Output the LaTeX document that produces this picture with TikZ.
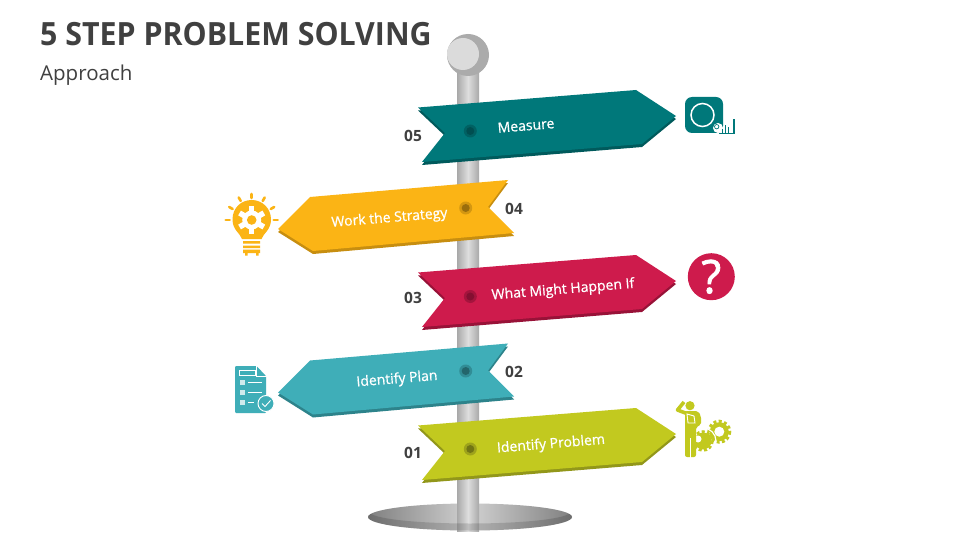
\documentclass[tikz,border=0pt]{standalone}
\usepackage{fontspec}
\setmainfont{Open Sans}
\newfontfamily\signfont{Open Sans}[FakeBold=0.7]
\newfontfamily\markfont{Open Sans}[FakeBold=1.6]
\newfontfamily\titlefont{Open Sans}[FakeStretch=0.948]
\usepackage{tikz}
\definecolor{titlegray}{HTML}{404040}
\definecolor{measureteal}{HTML}{00787A}
\definecolor{measuredark}{HTML}{005A5C}
\definecolor{strategyyellow}{HTML}{FBB415}
\definecolor{strategydark}{HTML}{C78E10}
\definecolor{happencrimson}{HTML}{CE1B4C}
\definecolor{happendark}{HTML}{981238}
\definecolor{planaqua}{HTML}{3FAEB8}
\definecolor{plandark}{HTML}{2D838B}
\definecolor{problemlime}{HTML}{C2C91F}
\definecolor{problemdark}{HTML}{92971A}
\tikzset{
	signtext/.style={text=white, font=\signfont\fontsize{14}{16}\selectfont, inner sep=0pt},
	numtext/.style={text=titlegray, font=\bfseries\fontsize{15.5}{17}\selectfont, inner sep=0pt},
	holeout/.style={circle, fill=#1, fill opacity=.75, minimum size=13pt, inner sep=0pt},
	holein/.style={circle, fill=#1, fill opacity=.9, minimum size=8pt, inner sep=0pt},
	ray/.style={line width=2.6pt, line cap=round},
}
\begin{document}
\begin{tikzpicture}[x=1pt, y=-1pt]
	\useasboundingbox (0,0) rectangle (960,540);
	\fill[white] (0,0) rectangle (960,540);
	\node[anchor=west, inner sep=0pt, text=titlegray, font=\titlefont\bfseries\fontsize{32}{34}\selectfont] (title) at (40,34.5) {5 STEP PROBLEM SOLVING};
	\node[anchor=west, inner sep=0pt, text=titlegray, font=\fontsize{20.5}{22}\selectfont] (subtitle) at (40,75) {Approach};

	\shade[left color=black!50, right color=black!50, middle color=black!18] (470,517) ellipse (102 and 13.5);
	\shade[left color=black!34, right color=black!34, middle color=black!13] (457,50) rectangle (479,531);
	\begin{scope}
		\clip (470,517) ellipse (102 and 13.5);
		\fill[black, opacity=.14, even odd rule] (360,495) rectangle (580,535) (470,512) ellipse (100 and 11.5);
	\end{scope}
	\fill[black!33] (468,55) circle (21);
	\fill[black!14] (463,54) circle (16);

	\fill[measuredark] (418,110.5) -- (636,93) -- (676,119) -- (642,147) -- (422,165) -- (445,136) -- cycle;
	\fill[measureteal] (418,107.5) -- (636,90) -- (676,116) -- (642,144) -- (422,162) -- (445,133) -- cycle;
	\fill[strategydark] (508,183) -- (310,200) -- (278,232) -- (313,254) -- (514,236) -- (488,210) -- cycle;
	\fill[strategyyellow] (508,180) -- (310,197) -- (278,229) -- (313,251) -- (514,233) -- (488,207) -- cycle;
	\fill[happendark] (418,275.5) -- (636,258) -- (676,284) -- (642,312) -- (422,330) -- (445,301) -- cycle;
	\fill[happencrimson] (418,272.5) -- (636,255) -- (676,281) -- (642,309) -- (422,327) -- (445,298) -- cycle;
	\fill[plandark] (508,346.5) -- (310,363.5) -- (278,395.5) -- (313,417.5) -- (514,399.5) -- (488,373.5) -- cycle;
	\fill[planaqua] (508,343.5) -- (310,360.5) -- (278,392.5) -- (313,414.5) -- (514,396.5) -- (488,370.5) -- cycle;
	\fill[problemdark] (418,428.5) -- (636,411) -- (676,437) -- (642,465) -- (422,483) -- (445,454) -- cycle;
	\fill[problemlime] (418,425.5) -- (636,408) -- (676,434) -- (642,462) -- (422,480) -- (445,451) -- cycle;

	\node[holeout=measuredark] (hole5) at (470.3,131) {};
	\node[holein=measuredark!85!black] (pin5) at (470.3,131) {};
	\node[holeout=strategydark] (hole4) at (465.7,208) {};
	\node[holein=strategydark!75!black] (pin4) at (465.7,208) {};
	\node[holeout=happendark] (hole3) at (470.3,296.5) {};
	\node[holein=happendark!85!black] (pin3) at (470.3,296.5) {};
	\node[holeout=plandark] (hole2) at (465.7,371) {};
	\node[holein=plandark!75!black] (pin2) at (465.7,371) {};
	\node[holeout=problemdark] (hole1) at (470.3,449) {};
	\node[holein=problemdark!75!black] (pin1) at (470.3,449) {};

	\node[signtext, rotate=4.7] (measure) at (526,125.5) {Measure};
	\node[signtext, rotate=4.7] (strategy) at (389.5,218.5) {Work the Strategy};
	\node[signtext, rotate=4.7] (happen) at (563,290) {What Might Happen If};
	\node[signtext, rotate=4.7] (plan) at (397,379.5) {Identify Plan};
	\node[signtext, rotate=4.7] (problem) at (551,444.5) {Identify Problem};

	\node[numtext] (num5) at (413,135.5) {05};
	\node[numtext] (num4) at (514,208.5) {04};
	\node[numtext] (num3) at (413,298) {03};
	\node[numtext] (num2) at (514,371.5) {02};
	\node[numtext] (num1) at (413,453) {01};

	% tape
	\fill[measureteal, rounded corners=7pt] (685,97) rectangle (723,133);
	\draw[white, line width=1.5pt] (702.5,115) circle (11.5);
	\fill[white] (718,128) circle (5);
	\draw[measureteal, line width=.7pt] (716.7,126.7) circle (2.2);
	\draw[measureteal, line width=.8pt] (719,133.5) -- (735,133.5);
	\fill[measureteal] (732.5,119) rectangle (734.5,134);
	\draw[measureteal, line width=.6pt] (722.5,133) -- (722.5,129) (725.5,133) -- (725.5,125.5) (728.5,133) -- (728.5,127);

	% bulb
	\foreach \a in {0,30,...,180}
		\draw[ray, strategyyellow] ({251.7+22*cos(\a)},{220-22*sin(\a)}) -- ({251.7+26*cos(\a)},{220-26*sin(\a)});
	\fill[strategyyellow] (242,239) .. controls (240,233) and (232.5,230) .. (232.5,219.5) .. controls (232.5,208) and (241,200) .. (251.7,200) .. controls (262,200) and (271,208) .. (271,219.5) .. controls (271,230) and (263.5,233) .. (261.5,239) -- cycle;
	\fill[strategyyellow] (243,241) rectangle (260,243.5) (243,245.5) rectangle (260,248) (243,249.5) rectangle (260,253) (245,253) rectangle (247.5,255.5) (256,253) rectangle (258.5,255.5);
	\fill[white] (251.7,220) circle (9.5);
	\foreach \a in {0,60,...,300}
		\draw[white, line width=5.5pt] (251.7,220) -- ({251.7+14*cos(\a+30)},{220-14*sin(\a+30)});
	\fill[strategyyellow] (251.7,220) circle (4.8);

	% checklist
	\fill[planaqua, rounded corners=1pt] (235,366) -- (256.5,366) -- (266,376) -- (266,413) -- (235,413) -- cycle;
	\draw[white, line width=.8pt] (256.5,366) -- (256.5,376) -- (266,376);
	\draw[white, line width=.8pt] (239.5,370.5) rectangle (255,375);
	\foreach \y in {382.5,392.5,402.5}
		\fill[white!75!planaqua] (239.5,{\y-2.5}) rectangle (244.5,{\y+2.5});
	\draw[white, line width=.8pt] (248,382.5) -- (262,382.5) (248,392.5) -- (262,392.5) (248,402.5) -- (254,402.5);
	\filldraw[fill=planaqua, draw=white, line width=.9pt] (266,403.5) circle (8);
	\draw[white, line width=.9pt] (262,403.5) -- (265,406.5) -- (270.5,400.5);

	% question
	\node[circle, fill=happencrimson, minimum size=47pt, inner sep=0pt] (question) at (711.3,276.7) {};
	\node[inner sep=0pt, text=white, font=\markfont\fontsize{46}{48}\selectfont] (mark) at (711.3,276.7) {?};

	% person and gears
	\fill[problemlime] (719.3,431.7) circle (9.5);
	\draw[problemlime, line width=3pt, dash pattern=on 3pt off 2.4pt] (719.3,431.7) circle (10.5);
	\fill[white] (719.3,431.7) circle (5);
	\draw[white, line width=1.2pt] (703,441) circle (13);
	\fill[problemlime] (703,441) circle (8.5);
	\draw[problemlime, line width=2.5pt, dash pattern=on 3pt off 2.4pt] (703,441) circle (9.5);
	\fill[white] (698,439) circle (3.5);
	\fill[problemlime] (690,405.7) circle (4.6);
	\draw[problemlime, line width=3.6pt, line join=round] (684,402) -- (677.5,410) -- (688,414);
	\fill[problemlime, rounded corners=2pt] (685,411) -- (698,411) -- (701,416) -- (701,425) -- (696,427) -- (696,457) -- (685,457) -- cycle;
	\draw[white, line width=1pt] (690.7,438) -- (690.7,458);
	\draw[white, line width=.9pt] (687,414) -- (694,416) -- (695,423) -- (688,423) -- cycle;
\end{tikzpicture}
\end{document}
